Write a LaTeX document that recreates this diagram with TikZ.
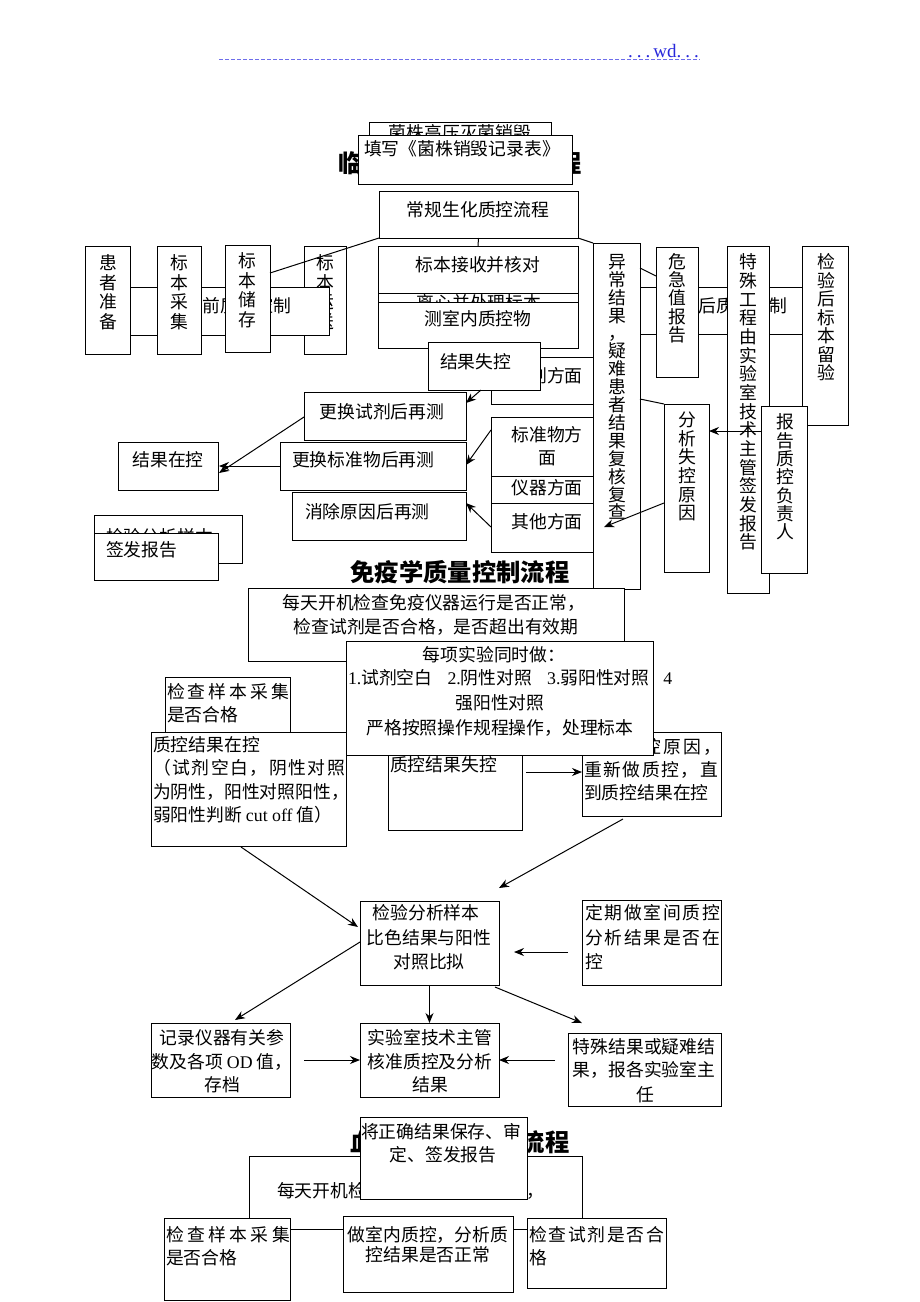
\documentclass[tikz,border=0pt]{standalone}
\usepackage{fontspec}
\setmainfont{Noto Sans CJK SC}
\newfontfamily\lat{Liberation Serif}
\usetikzlibrary{arrows.meta,calc}
\tikzset{
 bx/.style={draw=black, line width=1pt, fill=white, inner sep=0pt, outer sep=0pt},
 tx/.style={inner sep=0pt, outer sep=0pt, font=\fontsize{17.8}{21}\selectfont},
 vt/.style={inner sep=0pt, outer sep=0pt, align=center, font=\fontsize{17.8}{#1}\selectfont},
 vt/.default=18.6,
 ttl/.style={inner sep=0pt, font=\fontsize{24.3}{28}\selectfont\bfseries},
 ln/.style={draw=black, line width=1pt},
 arr/.style={ln, -{Stealth[length=10pt,width=8pt]}},
 hdr/.style={draw={rgb,255:red,110;green,110;blue,235}, line width=1pt, dash pattern=on 4pt off 2pt},
}
\newcommand\bx[6][]{\node[bx,#1,anchor=north west,minimum width={#4-#2},minimum height={#5-#3}] (#6) at (#2,#3) {};}
\newcommand\tl[5][]{\node[tx,anchor=west,#1] (#2) at (#3,#4) {#5};}
\newcommand\tc[5][]{\node[tx,#1] (#2) at (#3,#4) {#5};}
\newcommand\spr[2]{\makebox[#1pt][l]{#2}}
\begin{document}
\begin{tikzpicture}[x=1pt,y=-1pt]
\useasboundingbox (0,0) rectangle (920,1302);
\fill[white] (0,0) rectangle (920,1302);
% header
\coordinate (h1) at (219,59); \coordinate (h2) at (700,59);
\draw[hdr] (h1) -- (h2);
\node[inner sep=0pt, font=\fontsize{19}{19}\selectfont\lat, text={rgb,255:red,40;green,40;blue,220}, anchor=base east] (hdrt) at (699,57) {.\hspace{4pt}.\hspace{4pt}.\hspace{3pt}wd.\hspace{4pt}.\hspace{4pt}.};

% ===== section 1 =====
\bx{369}{122}{551}{170}{jz1}
\tc{tjz1}{460}{133}{菌株高压灭菌销毁}
\node[ttl] (ttl1) at (460,163) {临床生化质量控制流程};
\bx{358}{135}{572}{184}{jz2}
\tl{tjz2}{364}{149}{填写《菌株销毁记录表》}
\bx{379}{191}{578}{238}{cg}
\tc{tcg}{478}{210}{常规生化质控流程}

\bx{85}{246}{130}{354}{hz}
\node[vt=19.5] (thz) at (108,292) {患\\者\\准\\备};
\bx{304}{246}{346}{354}{bs4}
\node[vt=19.5] (tbs4) at (325,292) {标\\本\\运\\送};
\bx{130}{287}{329}{335}{qz}
\tc{tqz}{229}{306}{检验前质量控制}
\bx{157}{246}{201}{354}{cj}
\node[vt=19.5] (tcj) at (179,292) {标\\本\\采\\集};
\bx{225}{245}{270}{352}{cc}
\node[vt=19.5] (tcc) at (247,290) {标\\本\\储\\存};
\draw[ln] (cg.south west) -- ($(cc.north east)+(0,28)$);

\bx{378}{280}{578}{330}{lx}
\tc{tlx}{479}{303}{离心并处理标本}
\bx{378}{246}{578}{293}{js}
\tc{tjs}{478}{265}{标本接收并核对}
\bx{378}{302}{578}{348}{sn}
\tc{tsn}{478}{319}{测室内质控物}
\draw[ln] (cg.south) -- (js.north);

\bx{491}{357}{603}{404}{sjf}
\tc{tsjf}{547}{376}{试剂方面}
\bx{428}{342}{540}{390}{jsk}
\tl{tjsk}{440}{362}{结果失控}
\bx{304}{392}{466}{440}{ghs}
\tc{tghs}{382}{412}{更换试剂后再测}
\bx{118}{442}{218}{490}{jzk}
\tc{tjzk}{168}{460}{结果在控}
\bx{280}{442}{466}{490}{ghb}
\tl{tghb}{292}{460}{更换标准物后再测}
\bx{292}{492}{466}{540}{xc}
\tl{txc}{305}{512}{消除原因后再测}
\bx{491}{466}{603}{515}{yq}
\tc{tyq}{547}{488}{仪器方面}
\bx{491}{417}{603}{476}{bz}
\node[vt=23] (tbz) at (547,446.5) {标准物方\\面};
\bx{491}{503}{603}{552}{qt}
\tc{tqt}{547}{522}{其他方面}
\bx{94}{515}{242}{563}{jyfx}
\tl{tjyfx}{106}{537}{检验分析样本}
\bx{94}{533}{218}{580}{qf}
\tl{tqf}{106}{550}{签发报告}

\draw[arr] ($(jsk.south west)+(53,0)$) -- ($(ghs.north east)+(0,11)$);
\draw[arr] ($(ghs.north west)+(0,25)$) -- ($(jzk.north east)+(1,31)$);
\draw[arr] ($(ghb.north west)+(0,24)$) -- ($(jzk.north east)+(1,24)$);
\draw[arr] ($(bz.north west)+(0,13)$) -- ($(ghb.north east)+(0,23)$);
\draw[arr] ($(qt.north west)+(0,24)$) -- ($(xc.north east)+(0,11)$);

% right group
\bx{593}{243}{640}{589}{yc}
\node[vt=17.9] (tyc) at (617,387) {异\\常\\结\\果\\，\\疑\\难\\患\\者\\结\\果\\复\\核\\复\\查};
\draw[ln] (cg.south east) -- (yc.north west);
\bx{640}{287}{802}{334}{hz2}
\tc{thz2}{725}{306}{检验后质量控制}
\bx{656}{247}{698}{377}{wj}
\node[vt=18.3] (twj) at (677,298) {危\\急\\值\\报\\告};
\bx{727}{246}{769}{593}{ts}
\node[vt=18.67] (tts) at (748,402) {特\\殊\\工\\程\\由\\实\\验\\室\\技\\术\\主\\管\\签\\发\\报\\告};
\bx{802}{246}{848}{425}{lb}
\node[vt=18.5] (tlb) at (826,317.5) {检\\验\\后\\标\\本\\留\\验};
\bx{664}{404}{709}{572}{fx}
\node[vt=18.6] (tfx) at (687,466.5) {分\\析\\失\\控\\原\\因};
\bx{761}{406}{807}{573}{bg}
\node[vt=18.3] (tbg) at (785,477) {报\\告\\质\\控\\负\\责\\人};
\draw[ln] ($(yc.north east)+(0,25)$) -- ($(wj.north west)+(0,29)$);
\draw[ln] ($(yc.north east)+(0,156)$) -- (fx.north west);
\draw[arr] ($(bg.north west)+(0,25)$) -- ($(fx.north east)+(0,27)$);
\draw[arr] ($(fx.north west)+(0,99)$) -- ($(qt.north east)+(1,24)$);

% ===== section 2 =====
\node[ttl] (ttl2) at (460,572) {免疫学质量控制流程};
\bx{248}{588}{624}{661}{my}
\tc{tmy1}{434}{603}{每天开机检查免疫仪器运行是否正常，}
\tc{tmy2}{436}{627}{检查试剂是否合格，是否超出有效期}
\bx{165}{677}{290}{745}{jc}
\tl{tjc1}{167}{692}{\spr{122}{检\hfill 查\hfill 样\hfill 本\hfill 采\hfill 集}}
\tl{tjc2}{167}{715}{是否合格}
\bx{151}{732}{346}{846}{zk}
\tl{tzk1}{153}{745}{质控结果在控}
\tl{tzk2}{153}{768}{\spr{192}{（\hfill 试\hfill 剂\hfill 空\hfill 白\hfill ，\hfill 阴\hfill 性\hfill 对\hfill 照}}
\tl{tzk3}{153}{792}{为阴性，阳性对照阳性，}
\tl{tzk4}{153}{815}{弱阳性判断 {\lat cut off} 值）}
\bx{388}{740}{522}{830}{sk}
\tl{tsk}{390}{765}{质控结果失控}
\bx{582}{732}{721}{816}{fy}
\tl{tfy1}{584}{747}{\spr{137}{分\hfill 析\hfill 失\hfill 控\hfill 原\hfill 因\hfill ，}}
\tl{tfy2}{584}{770}{\spr{134}{重\hfill 新\hfill 做\hfill 质\hfill 控\hfill ，\hfill 直}}
\tl{tfy3}{584}{793}{到质控结果在控}
\bx{346}{641}{653}{755}{mx}
\tc{tmx1}{494}{655}{每项实验同时做：}
\tl{tmx2}{348}{678}{{\lat 1.}试剂空白\hspace{15pt}{\lat 2.}阴性对照\hspace{15pt}{\lat 3.}弱阳性对照\hspace{14pt}{\lat 4}}
\tc{tmx3}{500}{703}{强阳性对照}
\tc{tmx4}{500}{728}{严格按照操作规程操作，处理标本}

\bx{360}{901}{499}{985}{jy}
\tc{tjy1}{426}{913}{检验分析样本}
\tc{tjy2}{429}{938}{比色结果与阳性}
\tc{tjy3}{429}{962}{对照比拟}
\bx{582}{900}{721}{985}{dq}
\tl{tdq1}{585}{913}{\spr{135}{定\hfill 期\hfill 做\hfill 室\hfill 间\hfill 质\hfill 控}}
\tl{tdq2}{585}{938}{\spr{135}{分\hfill 析\hfill 结\hfill 果\hfill 是\hfill 否\hfill 在}}
\tl{tdq3}{585}{962}{控}
\bx{151}{1023}{290}{1097}{jl}
\tc{tjl1}{222}{1038}{记录仪器有关参}
\tc{tjl2}{222}{1062}{数及各项 {\lat OD} 值，}
\tc{tjl3}{222}{1085}{存档}
\bx{360}{1023}{499}{1097}{sy}
\tc{tsy1}{430}{1038}{实验室技术主管}
\tc{tsy2}{430}{1062}{核准质控及分析}
\tc{tsy3}{430}{1085}{结果}
\bx{568}{1033}{721}{1106}{tj}
\tc{ttj1}{644}{1047}{特殊结果或疑难结}
\tc{ttj2}{644}{1070}{果，报各实验室主}
\tc{ttj3}{645}{1095}{任}

\draw[arr] ($(sk.north east)+(4,32)$) -- ($(fy.north west)+(0,40)$);
\draw[arr] ($(fy.south west)+(41,3)$) -- ($(jy.north east)+(0,-13)$);
\draw[arr] ($(zk.south west)+(90,1)$) -- ($(jy.north west)+(-2,26)$);
\draw[arr] ($(dq.north west)+(-14,52)$) -- ($(jy.north east)+(15,51)$);
\draw[arr] ($(jy.north west)+(0,41)$) -- ($(jl.north west)+(84,-3)$);
\draw[arr] (jy.south) -- (sy.north);
\draw[arr] ($(jy.south east)+(-4,2)$) -- ($(tj.north west)+(14,-10)$);
\draw[arr] ($(jl.north east)+(14,37)$) -- ($(sy.north west)+(0,37)$);
\draw[arr] ($(tj.north west)+(-13,27)$) -- ($(sy.north east)+(0,37)$);

% ===== section 3 =====
\node[ttl] (ttl3) at (460,1142) {血液学质量控制流程};
\bx{249}{1156}{582}{1229}{mt}
\tl{tmt}{277}{1191}{每天开机检查仪器运行是否正常，}
\bx{360}{1117}{527}{1199}{jzq}
\tl{tjzq1}{361}{1132}{将正确结果保存、审}
\tc{tjzq2}{443}{1155}{定、签发报告}
\bx{164}{1218}{290}{1300}{jc2}
\tl{tjc21}{166}{1235}{\spr{124}{检\hfill 查\hfill 样\hfill 本\hfill 采\hfill 集}}
\tl{tjc22}{166}{1258}{是否合格}
\bx{343}{1216}{513}{1292}{zs}
\tc{tzs1}{428}{1235}{做室内质控，分析质}
\tc{tzs2}{428}{1255}{控结果是否正常}
\bx{527}{1218}{666}{1288}{jsj}
\tl{tjsj1}{529}{1235}{\spr{135}{检\hfill 查\hfill 试\hfill 剂\hfill 是\hfill 否\hfill 合}}
\tl{tjsj2}{529}{1258}{格}
\end{tikzpicture}
\end{document}
